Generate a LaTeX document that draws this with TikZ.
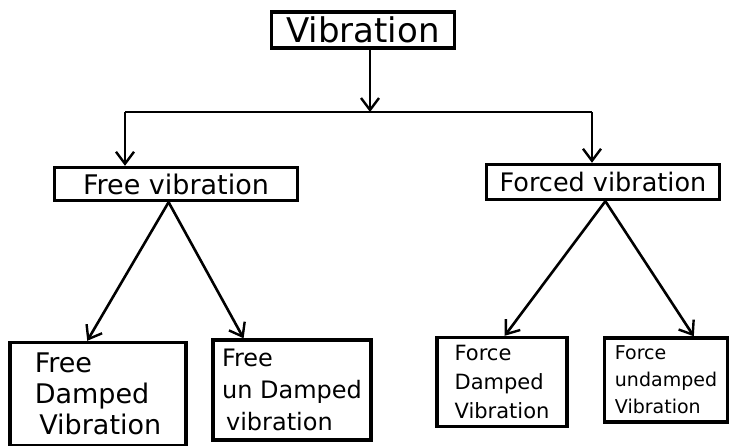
\documentclass[tikz,border=0pt]{standalone}
\usepackage{fontspec}
\setmainfont{DejaVu Sans}
\usetikzlibrary{arrows.meta,calc}
\begin{document}
\begin{tikzpicture}[x=1pt,y=-1pt,
    box/.style={draw,line width=3.4pt,rectangle,inner sep=0pt},
    leafbox/.style={box,align=left,anchor=center},
    arr/.style={line width=2.6pt,-{Straight Barb[length=12pt,width=18pt,line width=2.4pt]}}]
    \useasboundingbox (0,0) rectangle (731,445);

    \node[box,minimum width=183pt,minimum height=36pt,font=\fontsize{34}{36}\selectfont] (vib) at (363,30) {Vibration};
    \node[box,minimum width=243pt,minimum height=33pt,font=\fontsize{27}{30}\selectfont] (free) at (176,184) {Free vibration};
    \node[box,minimum width=233pt,minimum height=35pt,font=\fontsize{25.5}{30}\selectfont] (forced) at (603,182) {Forced vibration};

    \node[leafbox,minimum width=176pt,minimum height=103pt,font=\fontsize{27}{31}\selectfont] (fd) at (98,394) {Free\\Damped\\\,Vibration};
    \node[leafbox,minimum width=158pt,minimum height=100pt,font=\fontsize{24}{32}\selectfont] (fud) at (292,390) {Free\\un Damped\\\,vibration};
    \node[leafbox,minimum width=130pt,minimum height=89pt,font=\fontsize{21}{29}\selectfont] (fod) at (502,382) {Force\\Damped\\Vibration};
    \node[leafbox,minimum width=123pt,minimum height=84pt,font=\fontsize{19}{27}\selectfont] (fou) at (666,380) {Force\\undamped\\Vibration};

    \coordinate (jn) at (370,112);
    \coordinate (jl) at (125,112);
    \coordinate (jr) at (592,112);

    \draw[arr] (jn |- vib.south) -- (jn);
    \draw[line width=2.6pt] (jl) -- (jr);
    \draw[arr] (jl) -- (jl |- free.north);
    \draw[arr] (jr) -- (jr |- forced.north);

    \coordinate (fsplit) at ($(free.south west)!0.47!(free.south east)$);
    \coordinate (osplit) at ($(forced.south west)!0.51!(forced.south east)$);
    \draw[arr] (fsplit) -- ($(fd.north west)!0.44!(fd.north east)$);
    \draw[arr] (fsplit) -- ($(fud.north west)!0.2!(fud.north east)$);
    \draw[arr] (osplit) -- ($(fod.north west)!0.52!(fod.north east)$);
    \draw[arr] (osplit) -- ($(fou.north west)!0.72!(fou.north east)$);
\end{tikzpicture}
\end{document}
